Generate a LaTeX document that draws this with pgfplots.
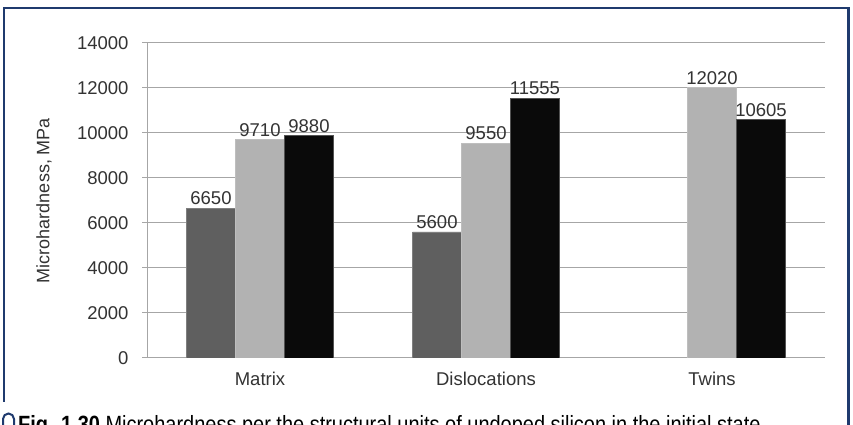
\documentclass[border=0pt]{standalone}
\usepackage{fontspec}
\setmainfont{Liberation Sans}
\newfontfamily\narrowfont{Liberation Sans}[FakeStretch=0.85]
\usepackage{pgfplots}
\pgfplotsset{compat=1.18}
\definecolor{frameblue}{HTML}{1F3A6E}
\definecolor{bardark}{HTML}{5F5F5F}
\definecolor{barlight}{HTML}{B2B2B2}
\definecolor{barblack}{HTML}{0A0A0A}
\definecolor{gridgray}{HTML}{A6A6A6}
\begin{document}
\begin{tikzpicture}
\path[use as bounding box, clip] (0pt,0pt) rectangle (853pt,425pt);
\fill[white] (0pt,0pt) rectangle (853pt,425pt);
\draw[frameblue, line width=2.5pt] (4pt,23pt) -- (4pt,417pt) -- (848.5pt,417pt) -- (848.5pt,-5pt);
\begin{axis}[
  at={(147pt,67pt)}, anchor=south west,
  scale only axis, width=678pt, height=315pt,
  xmin=-0.5, xmax=2.5, ymin=0, ymax=14000,
  ytick={0,2000,...,14000},
  ymajorgrids, grid style={gridgray, line width=1pt},
  axis x line*=bottom, axis y line*=left,
  axis line style={gridgray, line width=1pt},
  xtick={0,1,2}, xticklabels={Matrix,Dislocations,Twins},
  xtick style={draw=none},
  minor xtick={-0.5,0.5,1.5,2.5},
  minor x tick style={gridgray, line width=1pt},
  minor tick length=5pt, major tick length=5pt,
  tick align=outside,
  ytick style={gridgray, line width=1pt},
  scaled y ticks=false,
  /pgf/number format/1000 sep={},
  /pgf/number format/assume math mode=true,
  ticklabel style={font=\fontsize{18.5}{20}\selectfont, text=black!80},
  yticklabel style={xshift=-10pt},
  xticklabel style={yshift=-6pt},
  ylabel={Microhardness, MPa},
  every axis y label/.style={at={(axis description cs:-0.152,0.5)}, rotate=90, anchor=center, font=\fontsize{18}{20}\selectfont, text=black!80},
  ybar=0pt, bar width=49pt,
  nodes near coords,
  every node near coord/.append style={font=\fontsize{18.5}{20}\selectfont, text=black!80, inner sep=3pt},
]
\addplot[fill=bardark, draw=bardark!80!white] coordinates {(0,6650) (1,5600)};
\addplot[fill=barlight, draw=barlight!85!white] coordinates {(0,9710) (1,9550) (2,12020)};
\addplot[fill=barblack, draw=barblack!70!white] coordinates {(0,9880) (1,11555) (2,10605)};
\end{axis}
\draw[frameblue, line width=2pt] (3pt,0pt) -- (3pt,6pt) arc (180:0:5.5pt) -- (14pt,0pt);
\node[anchor=base west, inner sep=0] at (18pt,-8pt) {\narrowfont\fontsize{23.5}{25}\selectfont\textbf{Fig. 1.30} Microhardness per the structural units of undoped silicon in the initial state};
\end{tikzpicture}
\end{document}
